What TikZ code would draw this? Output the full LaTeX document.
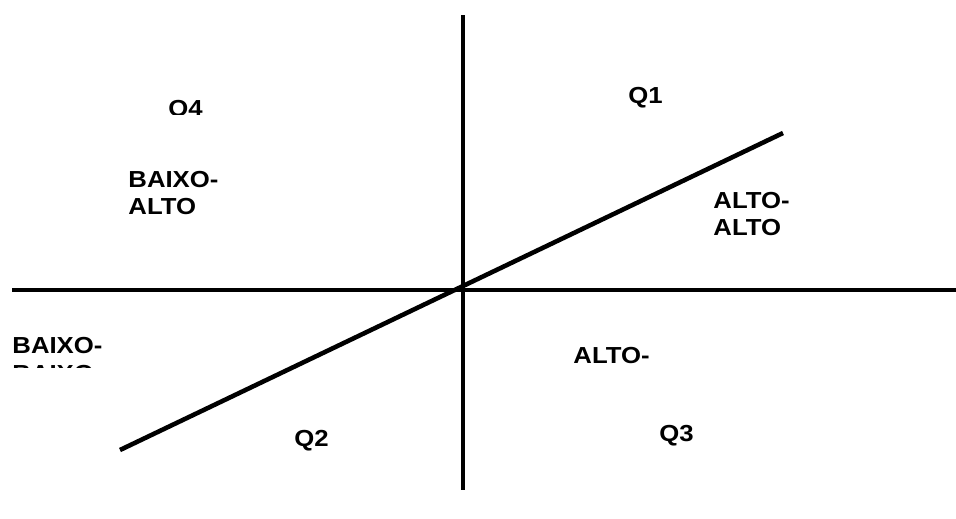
\documentclass[tikz,border=0pt]{standalone}
\usepackage{fontspec}
\setmainfont{Liberation Sans}
\usetikzlibrary{positioning}

\begin{document}
\begin{tikzpicture}[x=0.02cm,y=-0.02cm,
  lbl/.style={anchor=base west,inner sep=0pt,xscale=1.22,yscale=1.1,font=\fontsize{12}{15.9}\selectfont\bfseries,align=left},
  axis/.style={line width=2.3pt},
  trend/.style={line width=2.6pt}]
\useasboundingbox (0,0) rectangle (956,518);
% axes
\coordinate (top) at (463,15);
\coordinate (bot) at (463,490);
\coordinate (lft) at (12,290);
\coordinate (rgt) at (956,290);
\draw[axis] (top)--(bot);
\draw[axis] (lft)--(rgt);
% trend line
\coordinate (lo) at (120,450);
\coordinate (hi) at (783,133);
\draw[trend] (lo)--(hi);
% quadrant labels
\node[lbl] (q1) at (628,103) {Q1};
\node[lbl] (q2) at (294,446) {Q2};
\node[lbl] (q3) at (659,441) {Q3};
\begin{scope}
\clip (150,90) rectangle (220,114);
\node[lbl] (q4) at (168,116) {Q4};
\end{scope}
\node[lbl] (ba) at (128,187) {BAIXO-};
\node[lbl,below=15.9pt of ba.base west,anchor=base west] (ba2) {ALTO};
\node[lbl] (aa) at (713,208) {ALTO-};
\node[lbl,below=15.9pt of aa.base west,anchor=base west] (aa2) {ALTO};
\node[lbl] (bb) at (12,353) {BAIXO-};
\begin{scope}
\clip (0,360) rectangle (150,367);
\node[lbl] (bb2) at (12,381) {BAIXO};
\end{scope}
\node[lbl] (ab) at (573,363) {ALTO-};
\end{tikzpicture}
\end{document}
